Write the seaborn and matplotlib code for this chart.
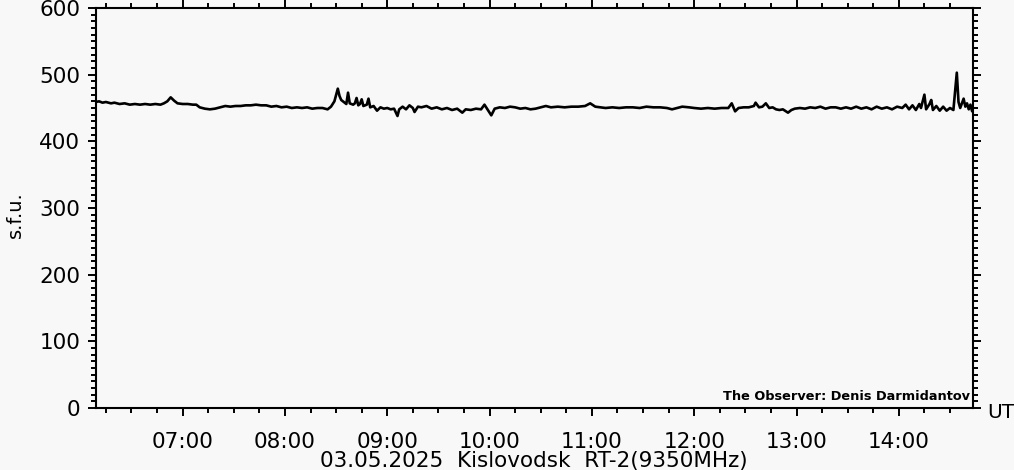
import matplotlib
matplotlib.use("Agg")
import matplotlib.pyplot as plt
import seaborn as sns
import pandas as pd
from matplotlib.ticker import MultipleLocator, FixedLocator, FuncFormatter

# ---- data ----
times = [
    "06:09", "06:11", "06:13", "06:15", "06:18", "06:20", "06:23", "06:26", "06:29", "06:32",
    "06:35", "06:38", "06:41", "06:44", "06:47", "06:49", "06:51", "06:53", "06:55", "06:57",
    "07:00", "07:03", "07:06", "07:08", "07:10", "07:13", "07:16", "07:19", "07:22", "07:25",
    "07:28", "07:31", "07:34", "07:37", "07:40", "07:43", "07:46", "07:49", "07:52", "07:55",
    "07:58", "08:01", "08:04", "08:07", "08:10", "08:13", "08:16", "08:19", "08:22", "08:25",
    "08:27", "08:29", "08:31", "08:32", "08:33", "08:35", "08:36", "08:37", "08:38", "08:40",
    "08:41", "08:42", "08:43", "08:44", "08:45", "08:46", "08:48", "08:49", "08:50", "08:52",
    "08:54", "08:56", "08:58", "09:00", "09:02", "09:04", "09:06", "09:07", "09:09", "09:11",
    "09:13", "09:15", "09:16", "09:18", "09:20", "09:23", "09:26", "09:29", "09:32", "09:35",
    "09:38", "09:41", "09:44", "09:46", "09:49", "09:52", "09:55", "09:57", "09:59", "10:01",
    "10:03", "10:06", "10:09", "10:12", "10:15", "10:18", "10:21", "10:24", "10:27", "10:30",
    "10:33", "10:36", "10:40", "10:44", "10:48", "10:52", "10:56", "10:59", "11:02", "11:05",
    "11:08", "11:12", "11:16", "11:20", "11:24", "11:28", "11:32", "11:36", "11:40", "11:44",
    "11:47", "11:50", "11:53", "11:57", "12:00", "12:04", "12:08", "12:12", "12:16", "12:20",
    "12:22", "12:24", "12:26", "12:29", "12:32", "12:35", "12:36", "12:38", "12:40", "12:42",
    "12:44", "12:46", "12:48", "12:50", "12:52", "12:55", "12:57", "12:59", "13:02", "13:05",
    "13:08", "13:11", "13:14", "13:17", "13:20", "13:23", "13:26", "13:29", "13:32", "13:35",
    "13:38", "13:41", "13:44", "13:47", "13:50", "13:53", "13:56", "13:59", "14:02", "14:04",
    "14:06", "14:08", "14:10", "14:12", "14:13", "14:15", "14:16", "14:18", "14:19", "14:20",
    "14:22", "14:24", "14:26", "14:28", "14:30", "14:32", "14:34", "14:35", "14:36", "14:37",
    "14:38", "14:39", "14:40", "14:41", "14:42", "14:43",
]
sfu = [
    459, 460, 458, 459, 457, 458, 456, 457, 455, 456,
    455, 456, 455, 456, 455, 457, 460, 466, 461, 457,
    456, 456, 455, 455, 451, 449, 448, 449, 451, 453,
    452, 453, 453, 454, 454, 455, 454, 454, 452, 453,
    451, 452, 450, 451, 450, 451, 449, 450, 450, 448,
    452, 460, 479, 468, 462, 458, 456, 473, 457, 455,
    457, 465, 454, 456, 463, 453, 455, 464, 451, 453,
    446, 451, 449, 450, 448, 449, 438, 448, 452, 448,
    454, 450, 444, 452, 451, 453, 449, 451, 448, 450,
    447, 449, 443, 448, 447, 449, 448, 455, 447, 439,
    449, 451, 450, 452, 451, 449, 450, 448, 449, 451,
    453, 451, 452, 451, 452, 452, 453, 457, 452, 451,
    450, 451, 450, 451, 451, 450, 452, 451, 451, 450,
    448, 450, 452, 451, 450, 449, 450, 449, 450, 450,
    457, 445, 450, 451, 451, 453, 458, 451, 452, 457,
    450, 451, 448, 447, 448, 443, 447, 449, 450, 449,
    451, 450, 452, 449, 451, 451, 449, 451, 449, 452,
    449, 451, 448, 452, 449, 451, 448, 452, 450, 455,
    448, 454, 447, 456, 450, 470, 448, 456, 462, 447,
    453, 446, 452, 446, 450, 447, 503, 459, 450, 457,
    464, 452, 457, 448, 455, 445,
]
hour_ticks = [7, 8, 9, 10, 11, 12, 13, 14]
y_ticks = [0, 100, 200, 300, 400, 500, 600]
x_title = "03.05.2025  Kislovodsk  RT-2(9350MHz)"
y_title = "s.f.u."
observer = "The Observer: Denis Darmidantov"

def to_hours(s):
    h, m = s.split(":")
    return int(h) + int(m) / 60.0

df = pd.DataFrame({"hour": [to_hours(t) for t in times], "sfu": sfu})

# ---- figure ----
sns.set_style("ticks")
plt.rcParams["font.family"] = ["DejaVu Sans"]
plt.rcParams["text.color"] = "black"
plt.rcParams["xtick.color"] = "black"
plt.rcParams["ytick.color"] = "black"
plt.rcParams["xtick.labelcolor"] = "black"
plt.rcParams["ytick.labelcolor"] = "black"
bg = "#f8f8f8"
fig = plt.figure(figsize=(10.14, 4.70), dpi=100, facecolor=bg)
W, H = 1014, 470
L, R, T, B = 95.5, 973, 8, 408
ax = fig.add_axes([L / W, 1 - B / H, (R - L) / W, (B - T) / H])
ax.set_facecolor(bg)

sns.lineplot(data=df, x="hour", y="sfu", ax=ax, color="black", linewidth=1.9,
             estimator=None, sort=True)

ax.set_xlim(368.9 / 60, 883.5 / 60)
ax.set_ylim(0, 600)

ax.xaxis.set_major_locator(FixedLocator(hour_ticks))
ax.xaxis.set_major_formatter(FuncFormatter(lambda v, p: f"{int(round(v)):02d}:00"))
ax.xaxis.set_minor_locator(MultipleLocator(0.25))
ax.yaxis.set_major_locator(FixedLocator(y_ticks))
ax.yaxis.set_minor_locator(MultipleLocator(10))

for s in ax.spines.values():
    s.set_visible(True)
    s.set_linewidth(1.5)
    s.set_color("black")

ax.tick_params(axis="both", which="both", direction="out", color="black", labelcolor="black",
               width=1.4, top=True, right=True, labeltop=False, labelright=False)
ax.tick_params(axis="y", which="major", length=6, pad=5, labelsize=15.5)
ax.tick_params(axis="y", which="minor", length=3.5)
ax.tick_params(axis="x", which="major", length=6, pad=11, labelsize=15.5)
ax.tick_params(axis="x", which="minor", length=3.5)

ax.set_xlabel("")
ax.set_ylabel("")
fig.text(15 / W, 1 - 215 / H, y_title, rotation=90, ha="center", va="center", fontsize=14,
         color="black")
fig.text((L + R) / 2 / W, 1 - 461 / H, x_title, ha="center", va="center", fontsize=15.5,
         color="black")
fig.text(987 / W, 1 - 413 / H, "UT", ha="left", va="center", fontsize=14.5, color="black")
ax.text(0.997, 0.012, observer, transform=ax.transAxes, ha="right", va="bottom",
        fontsize=9.3, fontweight="bold", color="black")

fig.savefig("out.png", dpi=100, facecolor=bg)
